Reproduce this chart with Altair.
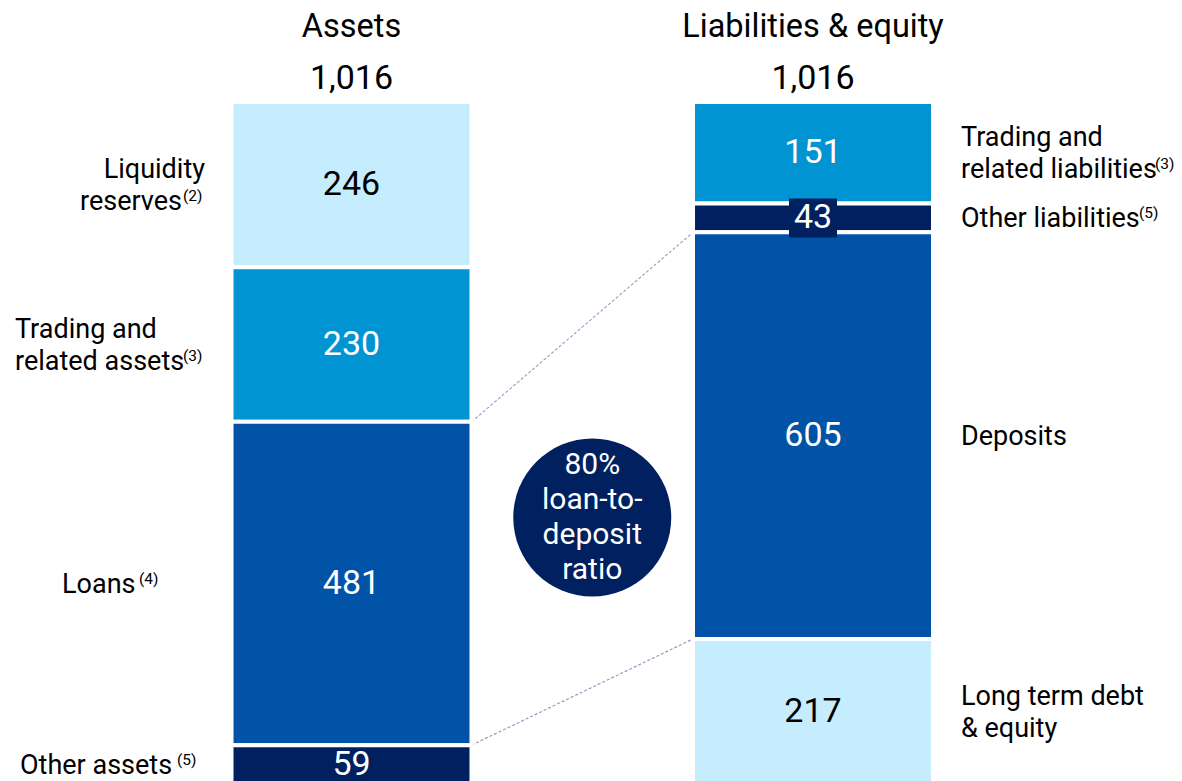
import altair as alt
import pandas as pd

# ---------------- data ----------------
sides = ["Assets", "Liabilities & equity"]

asset_items = ["Liquidity reserves", "Trading and related assets", "Loans", "Other assets"]
asset_values = [246, 230, 481, 59]
asset_kinds = ["reserves", "trading", "core", "other"]
asset_labels = ["Liquidity\nreserves", "Trading and\nrelated assets", "Loans", "Other assets"]
asset_notes = ["(2)", "(3)", "(4)", "(5)"]

liab_items = ["Trading and related liabilities", "Other liabilities", "Deposits", "Long term debt & equity"]
liab_values = [151, 43, 605, 217]
liab_kinds = ["trading", "other", "core", "reserves"]
liab_labels = ["Trading and\nrelated liabilities", "Other liabilities", "Deposits", "Long term debt\n& equity"]
liab_notes = ["(3)", "(5)", "", ""]

ratio_words = ["loan-to-", "deposit", "ratio"]

# ---------------- styles ----------------
FONT = "Roboto"
NAVY = "#00205F"
KIND_DOMAIN = ["reserves", "trading", "core", "other"]
KIND_COLORS = ["#C5EDFD", "#0094D3", "#0053A6", NAVY]
HALF = 0.26        # half bar width in x units
LABEL_SIZE = 27
LH = 32            # label line height
NOTE_SIZE = 15.5
NOTE_W = 23        # room left for a footnote mark after a right-aligned line

# label placement: (align, dx of label, dx of footnote mark) relative to bar centre
LABEL_LAYOUT = {
    "Liquidity reserves": ("right", -146.5, -168.5),
    "Trading and related assets": ("left", -336.5, -168.5),
    "Loans": ("left", -289.5, -212.5),
    "Other assets": ("left", -331.5, -174.5),
    "Trading and related liabilities": ("left", 148, 342),
    "Other liabilities": ("left", 148, 326),
    "Deposits": ("left", 148, 0),
    "Long term debt & equity": ("left", 148, 0),
}

# ---------------- tables ----------------
rows = []
groups = [
    (sides[0], asset_items, asset_values, asset_kinds, asset_labels, asset_notes),
    (sides[1], liab_items, liab_values, liab_kinds, liab_labels, liab_notes),
]
totals = []
for pos, (side, items, values, kinds, labels, notes) in enumerate(groups):
    total = sum(values)
    totals.append(dict(side=side, pos=pos, total=total))
    hi = total
    for item, v, k, lab, note in zip(items, values, kinds, labels, notes):
        lo = hi - v
        rows.append(dict(side=side, pos=pos, item=item, value=v, kind=k, label=lab, note=note,
                         lo=lo, hi=hi, mid=(lo + hi) / 2, x0=pos - HALF, x1=pos + HALF))
        hi = lo
seg = pd.DataFrame(rows)
tot = pd.DataFrame(totals)

loans = seg[(seg.side == sides[0]) & (seg.kind == "core")].iloc[0]
deps = seg[(seg.side == sides[1]) & (seg.kind == "core")].iloc[0]
conn = pd.DataFrame([
    dict(xa=0 + HALF, xb=1 - HALF, ya=loans.hi, yb=deps.hi),
    dict(xa=0 + HALF, xb=1 - HALF, ya=loans.lo, yb=deps.lo),
])
ratio_text = "\n".join([f"{round(100 * loans.value / deps.value)}%"] + ratio_words)
circ = pd.DataFrame([dict(x=0.5, y=(loans.mid + deps.mid) / 2, text=ratio_text)])

# ---------------- scales ----------------
W, H = 1166, 773
X = alt.Scale(domain=[-0.7443, 1.7822], nice=False, zero=False)
Y = alt.Scale(domain=[5.65, 1155.8], nice=False, zero=False)


def xq(f):
    return alt.X(f, type="quantitative", scale=X, axis=None)


def yq(f):
    return alt.Y(f, type="quantitative", scale=Y, axis=None)


base = alt.Chart(seg)

connectors = alt.Chart(conn).mark_rule(color="#8C9FBF", strokeWidth=1.2, strokeDash=[3, 2]).encode(
    x=xq("xa"), x2="xb:Q", y=yq("ya"), y2="yb:Q")

bars = base.mark_rect(stroke="white", strokeWidth=4).encode(
    x=xq("x0"), x2="x1:Q", y=yq("lo"), y2="hi:Q",
    color=alt.Color("kind:N", scale=alt.Scale(domain=KIND_DOMAIN, range=KIND_COLORS), legend=None))

box = base.transform_filter("datum.value < 50").mark_rect(
    color=NAVY, xOffset=-24, x2Offset=24, yOffset=-19.5, y2Offset=19.5).encode(
    x=xq("pos"), x2="pos:Q", y=yq("mid"), y2="mid:Q")

values_txt = base.mark_text(font=FONT, fontSize=34, baseline="middle").encode(
    x=xq("pos"), y=yq("mid"), text="value:Q",
    color=alt.condition("datum.kind == 'reserves'", alt.value("#000000"), alt.value("#ffffff")))

header = alt.Chart(tot).mark_text(font=FONT, fontSize=32.5, baseline="alphabetic", dy=-65, color="#000000").encode(
    x=xq("pos"), y=yq("total"), text="side:N")
total_txt = alt.Chart(tot).mark_text(font=FONT, fontSize=34, baseline="alphabetic", dy=-13, color="#000000").encode(
    x=xq("pos"), y=yq("total"), text=alt.Text("total:Q", format=","))

label_layers = []
for item, (align, dx, ndx) in LABEL_LAYOUT.items():
    row = seg[seg.item == item].iloc[0]
    n = row.label.count("\n") + 1
    sel = base.transform_filter(alt.datum.item == item)
    for i in range(n):
        off = (i - (n - 1) / 2) * LH + 1
        ldx = dx
        if align == "right" and row.note and i == n - 1:
            ldx = dx - NOTE_W
        label_layers.append(
            sel.transform_calculate(line=f"split(datum.label, '\\n')[{i}]").mark_text(
                font=FONT, fontSize=LABEL_SIZE, align=align, dx=ldx, dy=off,
                baseline="middle", color="#000000").encode(
                x=xq("pos"), y=yq("mid"), text="line:N"))
    if row.note:
        label_layers.append(
            sel.mark_text(font=FONT, fontSize=NOTE_SIZE, align="left", dx=ndx,
                          dy=(n - 1) / 2 * LH - 5, baseline="middle", color="#000000").encode(
                x=xq("pos"), y=yq("mid"), text="note:N"))

circle = alt.Chart(circ).mark_circle(size=158 * 158, color=NAVY, opacity=1, xOffset=10, yOffset=8).encode(
    x=xq("x"), y=yq("y"))
circle_txt = alt.Chart(circ).mark_text(font=FONT, fontSize=30, lineHeight=35, lineBreak="\n",
                                       color="#ffffff", baseline="middle", dx=10, dy=8 - 1.5 * 35).encode(
    x=xq("x"), y=yq("y"), text="text:N")

chart = alt.layer(connectors, bars, box, values_txt, header, total_txt, *label_layers, circle, circle_txt).properties(
    width=W, height=H, padding=0, autosize=alt.AutoSizeParams(type="none"), background="white"
).configure_view(stroke=None)

chart.save("out.html", embed_options={"renderer": "svg", "actions": False})
